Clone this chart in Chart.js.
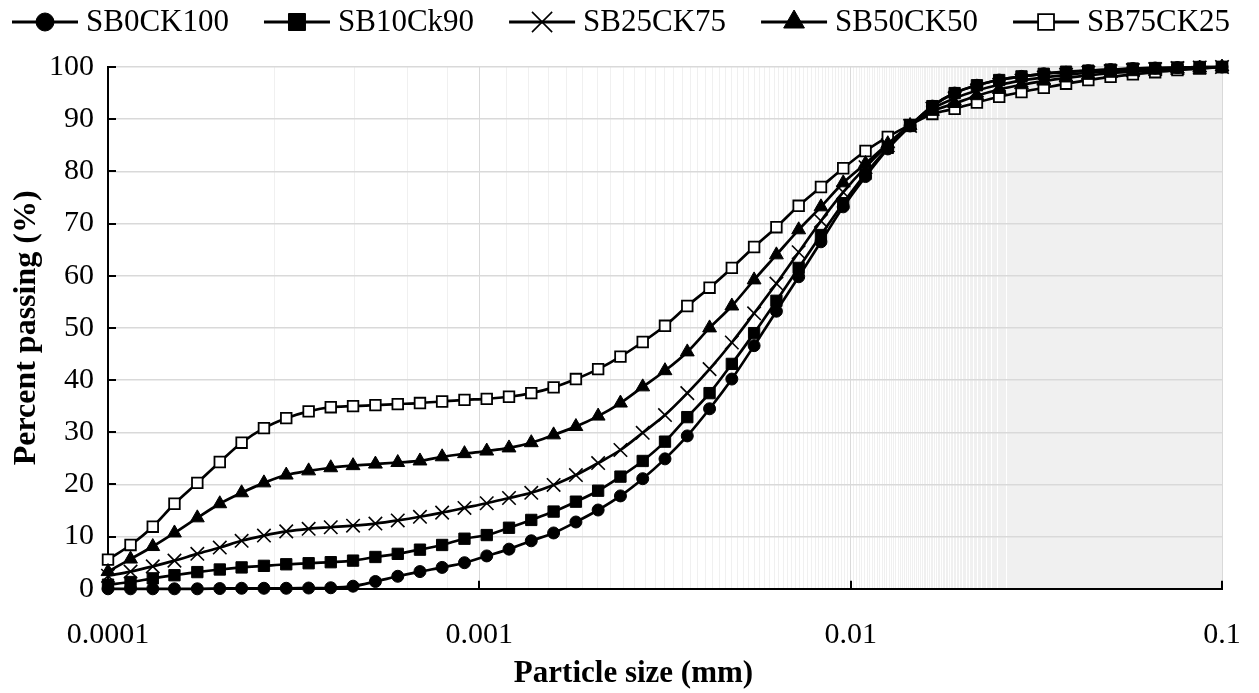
<!DOCTYPE html>
<html>
<head>
<meta charset="utf-8">
<script src="https://cdn.jsdelivr.net/npm/chart.js@4"></script>
<style>
  html, body { margin: 0; padding: 0; background: #fff; }
  #wrap { width: 1259px; height: 693px; }
</style>
</head>
<body>
<div id="wrap"><canvas id="psd"></canvas></div>
<script>
// Particle sizes (mm) of the measured classes
const sizes = [0.0001, 0.000115, 0.000132, 0.000151, 0.000174, 0.0002, 0.000229, 0.000263,
  0.000302, 0.000347, 0.000398, 0.000457, 0.000525, 0.000603, 0.000692, 0.000794, 0.000912,
  0.001047, 0.001202, 0.00138, 0.001585, 0.00182, 0.002089, 0.002399, 0.002754, 0.003162,
  0.003631, 0.004169, 0.004786, 0.005495, 0.00631, 0.007244, 0.008318, 0.00955, 0.010965,
  0.012589, 0.014454, 0.016596, 0.019055, 0.021878, 0.025119, 0.02884, 0.033113, 0.038019,
  0.043652, 0.050119, 0.057544, 0.066069, 0.075858, 0.087096, 0.1];

// Percent passing per mix
const sb0ck100 = [0, 0, 0, 0, 0, 0.05, 0.1, 0.1, 0.1, 0.15, 0.2, 0.5, 1.4, 2.4, 3.3, 4.1, 5.0,
  6.3, 7.6, 9.2, 10.7, 12.8, 15.1, 17.8, 21.1, 24.9, 29.3, 34.5, 40.2, 46.6, 53.2, 59.8, 66.5,
  73.2, 79.0, 84.3, 88.7, 92.5, 95.0, 96.5, 97.5, 98.2, 98.7, 99.0, 99.3, 99.5, 99.7, 99.8,
  99.9, 100, 100];
const sb10ck90 = [0.8, 1.3, 2.0, 2.6, 3.2, 3.7, 4.1, 4.4, 4.7, 4.9, 5.1, 5.4, 6.1, 6.7, 7.5,
  8.4, 9.6, 10.3, 11.7, 13.2, 14.8, 16.7, 18.8, 21.5, 24.5, 28.2, 32.9, 37.5, 43.1, 49.0, 55.2,
  61.5, 67.8, 73.9, 79.5, 84.5, 88.7, 92.5, 95.0, 96.5, 97.5, 98.2, 98.7, 99.1, 99.3, 99.5,
  99.7, 99.8, 99.9, 100, 100];
const sb25ck75 = [2.5, 3.3, 4.3, 5.4, 6.7, 7.9, 9.2, 10.2, 11.0, 11.5, 11.8, 12.1, 12.5, 13.1,
  13.8, 14.6, 15.5, 16.4, 17.4, 18.4, 19.9, 21.8, 24.1, 26.6, 29.9, 33.3, 37.5, 42.1, 47.2,
  52.8, 58.5, 64.5, 70.5, 76.0, 80.8, 85.0, 88.7, 92.0, 94.0, 95.5, 96.6, 97.4, 98.0, 98.5,
  98.9, 99.2, 99.4, 99.6, 99.8, 99.9, 100];
const sb50ck50 = [3.3, 5.7, 8.1, 10.7, 13.6, 16.3, 18.4, 20.3, 21.8, 22.6, 23.2, 23.6, 23.9,
  24.2, 24.5, 25.3, 25.9, 26.4, 27.0, 28.0, 29.5, 31.1, 33.1, 35.6, 38.7, 41.8, 45.4, 50.0,
  54.2, 59.2, 64.0, 68.8, 73.2, 77.8, 81.5, 85.3, 88.8, 91.5, 93.0, 94.5, 95.7, 96.6, 97.3,
  97.9, 98.4, 98.8, 99.1, 99.4, 99.6, 99.8, 100];
const sb75ck25 = [5.6, 8.4, 11.9, 16.3, 20.3, 24.3, 28.0, 30.8, 32.7, 34.0, 34.8, 35.0, 35.2,
  35.4, 35.6, 35.9, 36.2, 36.4, 36.8, 37.5, 38.6, 40.2, 42.1, 44.5, 47.3, 50.4, 54.2, 57.7,
  61.5, 65.5, 69.3, 73.4, 77.0, 80.6, 83.9, 86.6, 88.9, 91.0, 92.0, 93.2, 94.3, 95.2, 96.0,
  96.8, 97.5, 98.1, 98.6, 99.0, 99.4, 99.7, 100];

const seriesNames = ['SB0CK100', 'SB10Ck90', 'SB25CK75', 'SB50CK50', 'SB75CK25'];
const seriesValues = [sb0ck100, sb10ck90, sb25ck75, sb50ck50, sb75ck25];
const xTickLabels = ['0.0001', '0.001', '0.01', '0.1'];
const yTicks = [0, 10, 20, 30, 40, 50, 60, 70, 80, 90, 100];

// marker look per series
const markers = [
  { style: 'circle', radius: 6, fill: '#000', bw: 1 },
  { style: 'rect', radius: 8, fill: '#000', bw: 1 },
  { style: 'crossRot', radius: 9.5, fill: '#000', bw: 1.6 },
  { style: 'triangle', radius: 8, fill: '#000', bw: 1 },
  { style: 'rect', radius: 7.5, fill: '#fff', bw: 1.8 }
];

const FONT = "'Liberation Serif', 'Times New Roman', serif";
const MINOR_STEP = 0.00018;

const datasets = seriesNames.map((name, i) => ({
  label: name,
  data: sizes.map((s, j) => ({ x: s, y: seriesValues[i][j] })),
  borderColor: '#000',
  borderWidth: 2.7,
  cubicInterpolationMode: 'monotone',
  pointStyle: markers[i].style,
  pointRadius: markers[i].radius,
  pointBackgroundColor: markers[i].fill,
  pointBorderColor: '#000',
  pointBorderWidth: markers[i].bw,
  clip: false
}));

const isDecade = v => xTickLabels.some(t => Math.abs(v - Number(t)) / Number(t) < 1e-6);

// inward tick marks on both axes
const innerTicks = {
  id: 'innerTicks',
  afterDatasetsDraw(chart) {
    const { ctx, chartArea: a, scales: { x, y } } = chart;
    ctx.save();
    ctx.strokeStyle = '#000';
    ctx.lineWidth = 2;
    ctx.beginPath();
    yTicks.forEach(v => {
      const py = Math.round(y.getPixelForValue(v));
      ctx.moveTo(a.left, py); ctx.lineTo(a.left + 8, py);
    });
    xTickLabels.forEach(t => {
      const px = Math.round(x.getPixelForValue(Number(t)));
      ctx.moveTo(px, a.bottom); ctx.lineTo(px, a.bottom - 8);
    });
    ctx.stroke();
    ctx.restore();
  }
};

// legend row across the top: line with marker, then the name
const lineLegend = {
  id: 'lineLegend',
  afterDraw(chart) {
    const ctx = chart.ctx;
    const y = 22;
    let x = 12;
    ctx.save();
    ctx.font = `31px ${FONT}`;
    ctx.textBaseline = 'middle';
    ctx.textAlign = 'left';
    seriesNames.forEach((name, i) => {
      const m = markers[i];
      ctx.strokeStyle = '#000';
      ctx.lineWidth = 3;
      ctx.beginPath();
      ctx.moveTo(x, y); ctx.lineTo(x + 66, y);
      ctx.stroke();
      ctx.fillStyle = m.fill;
      ctx.lineWidth = m.bw;
      Chart.helpers.drawPoint(ctx, { pointStyle: m.style, radius: m.radius * 1.5, borderWidth: m.bw, rotation: 0 }, x + 33, y);
      ctx.fillStyle = '#000';
      ctx.fillText(name, x + 74, y + 1);
      x += 74 + ctx.measureText(name).width + 35;
    });
    ctx.restore();
  }
};

new Chart(document.getElementById('psd'), {
  type: 'line',
  data: { datasets },
  plugins: [innerTicks, lineLegend],
  options: {
    responsive: true,
    maintainAspectRatio: false,
    animation: false,
    layout: { padding: { left: 8, right: 0, top: 67, bottom: 0 } },
    plugins: {
      tooltip: { enabled: false },
      legend: { display: false },
      title: {
        display: true,
        position: 'bottom',
        text: 'Particle size (mm)',
        color: '#000',
        font: { family: FONT, size: 31, weight: 'bold' },
        padding: { top: 3, bottom: 0 }
      }
    },
    scales: {
      x: {
        type: 'logarithmic',
        min: 0.0001,
        max: 0.1,
        afterBuildTicks: axis => {
          const ticks = [];
          for (let k = 0; k <= 555; k++) ticks.push({ value: 0.0001 + k * MINOR_STEP });
          axis.ticks = ticks;
        },
        afterFit: axis => {
          axis.height = 64;
          axis.paddingRight = 37;
        },
        ticks: {
          autoSkip: false,
          maxRotation: 0,
          padding: 28,
          color: '#000',
          font: { family: FONT, size: 30 },
          callback: v => {
            const t = xTickLabels.find(l => Math.abs(v - Number(l)) / Number(l) < 1e-6);
            return t || '';
          }
        },
        grid: {
          z: -2,
          drawTicks: false,
          lineWidth: 1,
          color: c => (c.tick && isDecade(c.tick.value)) ? '#d9d9d9' : '#f0f0f0'
        },
        border: { color: '#000', width: 2 }
      },
      y: {
        min: 0,
        max: 100,
        afterBuildTicks: axis => { axis.ticks = yTicks.map(v => ({ value: v })); },
        afterFit: axis => { axis.width = 100; },
        ticks: {
          padding: 14,
          color: '#000',
          font: { family: FONT, size: 30 }
        },
        grid: { drawTicks: false, color: '#d9d9d9', lineWidth: 1.5 },
        border: { color: '#000', width: 2 },
        title: {
          display: true,
          text: 'Percent passing (%)',
          color: '#000',
          font: { family: FONT, size: 32, weight: 'bold' },
          padding: { top: 0, bottom: 3 }
        }
      }
    }
  }
});
</script>
</body>
</html>
